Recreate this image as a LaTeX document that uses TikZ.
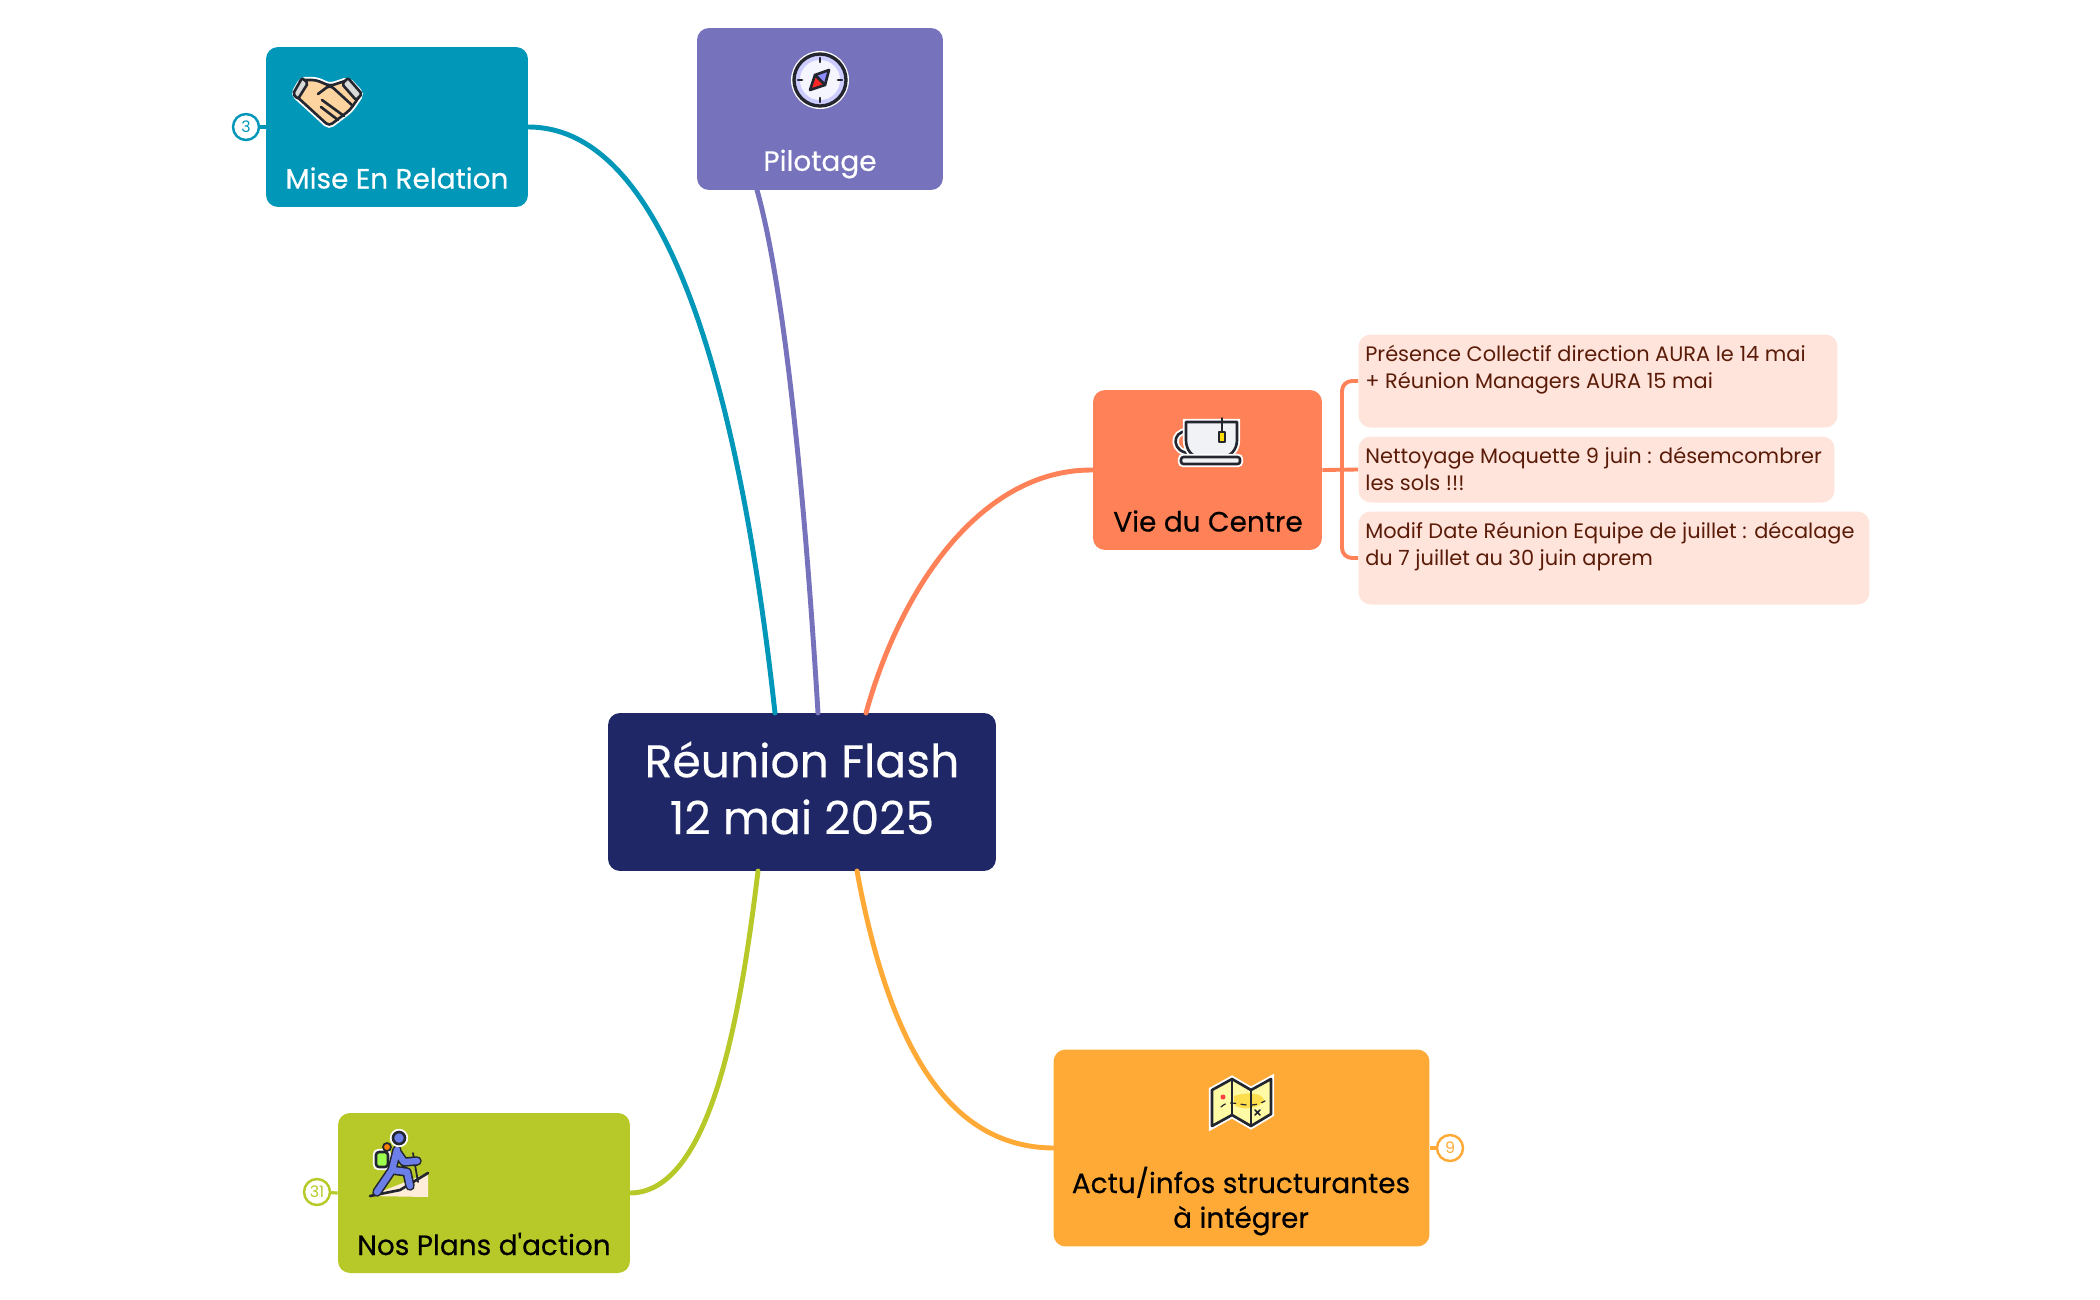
\documentclass[tikz,border=0pt]{standalone}
\usepackage{fontspec}
\setmainfont{Poppins}
\newfontfamily\labelfont[FakeBold=0.35]{Poppins}
\usetikzlibrary{calc,positioning}
\definecolor{hubblue}{HTML}{1F2766}
\definecolor{miseteal}{HTML}{0097B8}
\definecolor{pilotpurple}{HTML}{7672BC}
\definecolor{vieorange}{HTML}{FF8157}
\definecolor{actuamber}{HTML}{FFAA37}
\definecolor{planslime}{HTML}{B7C928}
\definecolor{subfill}{HTML}{FFE4DB}
\definecolor{subtext}{HTML}{5A1C08}
\definecolor{iconink}{HTML}{23262E}
\definecolor{skin}{HTML}{FDD3A0}
\definecolor{hikerblue}{HTML}{6C7FE8}
\definecolor{cupgrey}{HTML}{F1F2F5}
\tikzset{
  box/.style={rectangle,rounded corners=0.24cm,inner sep=0pt,minimum width=#1},
  label/.style={align=center,inner sep=0pt},
  boxtext/.style={label,font=\labelfont\fontsize{15.9}{19.8}\selectfont},
  subbox/.style={rectangle,rounded corners=0.24cm,fill=subfill,inner sep=0pt},
  subline/.style={align=left,inner sep=0pt,anchor=north west,text=subtext,font=\fontsize{11.9}{15.4}\selectfont},
  branch/.style={line width=2.8pt,line cap=round},
  badge/.style={circle,draw=#1,fill=white,text=#1,line width=1.4pt,minimum size=0.52cm,inner sep=0pt,font=\fontsize{9}{10}\selectfont},
  ink/.style={draw=iconink,line width=1.5pt,line join=round,line cap=round},
  halo/.style={ink,preaction={draw=white,line width=3.6pt}}
}
\begin{document}
\begin{tikzpicture}[x=0.02cm,y=-0.02cm]
\useasboundingbox (0,0) rectangle (2100,1299);

% central topic
\node [box=7.76cm,minimum height=3.16cm,fill=hubblue] (hub) at (802,792) {};
\node [label,text=white,font=\labelfont\fontsize{26}{32.4}\selectfont] (hubtext) at (802,788) {Réunion Flash\\12 mai 2025};
\coordinate (hubA) at (775,713);
\coordinate (hubB) at (818,713);
\coordinate (hubC) at (866,713);
\coordinate (hubD) at (758,871);
\coordinate (hubE) at (857,871);

% branches
\node [box=5.24cm,minimum height=3.2cm,fill=miseteal] (mise) at (397,127) {};
\node [box=4.92cm,minimum height=3.24cm,fill=pilotpurple] (pilot) at (820,109) {};
\node [box=4.58cm,minimum height=3.2cm,fill=vieorange] (vie) at (1207.5,470) {};
\node [box=7.52cm,minimum height=3.94cm,fill=actuamber] (actu) at (1241.5,1148) {};
\node [box=5.84cm,minimum height=3.2cm,fill=planslime] (plans) at (484,1193) {};
\coordinate (pilotfoot) at (757,190);

\node [boxtext,text=white] (misetext) at (397,178) {Mise En Relation};
\node [boxtext,text=white] (pilottext) at (820,164) {Pilotage};
\node [boxtext,text=black] (vietext) at (1208,521) {Vie du Centre};
\node [boxtext,text=black] (actutext) at (1241,1201) {Actu/infos structurantes\\à intégrer};
\node [boxtext,text=black] (planstext) at (484,1244) {Nos Plans d'action};

\draw [branch,miseteal] (mise.east) .. controls (680,127) and (745,440) .. (hubA);
\draw [branch,pilotpurple] (pilotfoot) .. controls (785,290) and (805,500) .. (hubB);
\draw [branch,vieorange] (vie.west) .. controls (980,469) and (900,590) .. (hubC);
\draw [branch,planslime] (plans.east) .. controls (710,1192) and (740,1020) .. (hubD);
\draw [branch,actuamber] (actu.west) .. controls (950,1147) and (890,1050) .. (hubE);

% counters
\node [badge=miseteal] (misecount) at (246,127) {3};
\node [badge=planslime] (planscount) at (317,1192) {31};
\node [badge=actuamber] (actucount) at (1450,1148) {9};
\draw [miseteal,line width=1.8pt] (misecount) -- (mise.west);
\draw [planslime,line width=1.8pt] (planscount) -- (plans.west);
\draw [actuamber,line width=1.8pt] (actucount) -- (actu.east);

% notes
\node [subbox,minimum width=9.58cm,minimum height=1.86cm] (noteA) at (1598,381) {};
\node [subbox,minimum width=9.52cm,minimum height=1.32cm] (noteB) at (1596.5,469.5) {};
\node [subbox,minimum width=10.22cm,minimum height=1.86cm] (noteC) at (1614,558) {};
\node [subline] (noteAtext) at (1365,345) {Présence Collectif direction AURA le 14 mai\\+ Réunion Managers AURA 15 mai};
\node [subline] (noteBtext) at (1365,447) {Nettoyage Moquette 9 juin : désemcombrer\\les sols !!!};
\node [subline] (noteCtext) at (1365,522) {Modif Date Réunion Equipe de juillet : décalage\\du 7 juillet au 30 juin aprem};
\coordinate (trunk) at (1342,469);
\draw [vieorange,line width=2.2pt] (vie.east) -- (noteB.west);
\draw [vieorange,line width=2.2pt,rounded corners=0.2cm] (noteA.west) -| (trunk) |- (noteC.west);

% handshake
\draw [halo,fill=skin,rounded corners=0.08cm] (302,80) -- (294,94) -- (329,126) -- (350,110) -- (361,94) -- (348,80) -- (330,86) -- (316,80) -- cycle;
\draw [ink,fill=white!85!black,rounded corners=0.04cm] (302,78) -- (293,94) -- (298,99) -- (308,83) -- cycle;
\draw [ink,fill=white!85!black,rounded corners=0.04cm] (348,78) -- (362,94) -- (356,100) -- (342,84) -- cycle;
\draw [ink,rounded corners=0.08cm] (318,94) -- (330,85) -- (353,106);
\draw [ink] (322,100) -- (344,116);
\draw [ink] (321,107) -- (338,120);

% compass
\fill [white] (820,80) circle (29);
\draw [ink,line width=1.9pt,fill=blue!20] (820,80) circle (26);
\fill [blue!4] (820,80) circle (20);
\draw [ink] (820,58) -- (820,62) (820,98) -- (820,102) (798,80) -- (802,80) (838,80) -- (842,80);
\draw [ink,fill=blue!45] (829,70) -- (815,75) -- (825,85) -- cycle;
\draw [ink,fill=red!85] (810,90) -- (815,75) -- (825,85) -- cycle;

% cup
\draw [halo] (1188,431) .. controls (1170,431) and (1172,454) .. (1191,453);
\draw [halo,fill=cupgrey] (1186,422) -- (1237,422) -- (1237,440) .. controls (1237,450) and (1230,457) .. (1222,457) -- (1200,457) .. controls (1192,457) and (1186,450) .. (1186,440) -- cycle;
\draw [halo,fill=cupgrey,rounded corners=0.05cm] (1181,457) rectangle (1240,464);
\draw [ink,line width=1pt] (1222,418) -- (1222,432);
\draw [ink,fill=yellow!80!orange,line width=1pt] (1219,432) -- (1225,432) -- (1225,442) -- (1219,442) -- cycle;

% map
\draw [halo,fill=yellow!35] (1212,1090) -- (1232,1079) -- (1251,1090) -- (1271,1079) -- (1271,1114) -- (1251,1126) -- (1232,1115) -- (1212,1126) -- cycle;
\fill [yellow!70!orange!70] (1234,1096) .. controls (1245,1092) and (1262,1092) .. (1264,1100) .. controls (1262,1108) and (1240,1112) .. (1234,1104) -- cycle;
\draw [ink] (1232,1079) -- (1232,1115) (1251,1090) -- (1251,1126);
\draw [ink,dashed,line width=0.7pt] (1221,1107) .. controls (1232,1096) and (1245,1112) .. (1265,1101);
\fill [red!75] (1223,1097) circle (2.5);
\draw [ink,line width=0.9pt] (1255,1110) -- (1260,1115) (1260,1110) -- (1255,1115);

% hiker
\fill [orange!15] (370,1196) -- (428,1173) -- (428,1197) -- cycle;
\draw [ink,line width=1.5pt] (370,1196) -- (400,1190) -- (428,1173);
\draw [ink,line width=1pt] (413,1153) -- (418,1182);
\draw [halo,fill=green!55!yellow!70,rounded corners=0.06cm] (376,1152) rectangle (388,1167);
\draw [ink,fill=orange,line width=1pt] (387,1147) circle (4);
\draw [iconink,line width=5.4pt,line cap=round,line join=round] (397,1150) -- (392,1170) -- (377,1192) (392,1170) -- (407,1172) -- (410,1186) (397,1152) -- (404,1162) -- (417,1161);
\draw [hikerblue,line width=3.6pt,line cap=round,line join=round] (397,1150) -- (392,1170) -- (377,1192) (392,1170) -- (407,1172) -- (410,1186) (397,1152) -- (404,1162) -- (417,1161);
\draw [halo,fill=hikerblue] (399,1138) circle (6);
\end{tikzpicture}
\end{document}
